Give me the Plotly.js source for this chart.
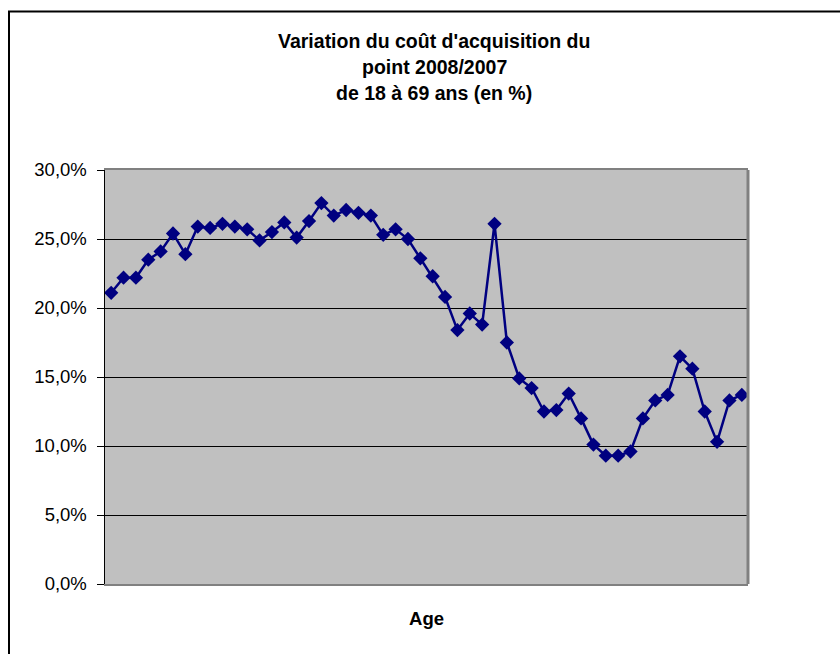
<!DOCTYPE html>
<html>
<head>
<meta charset="utf-8">
<script src="https://cdn.plot.ly/plotly-3.0.1.min.js"></script>
<style>html,body{margin:0;padding:0;background:#fff;}#chart{width:840px;height:654px;}</style>
</head>
<body>
<div id="chart"></div>
<script>
const ages = [18,19,20,21,22,23,24,25,26,27,28,29,30,31,32,33,34,35,36,37,38,39,40,41,42,43,44,45,46,47,48,49,50,51,52,53,54,55,56,57,58,59,60,61,62,63,64,65,66,67,68,69];
const variation = [0.211,0.222,0.222,0.235,0.241,0.254,0.239,0.259,0.258,0.261,0.259,0.257,0.249,0.255,0.262,0.251,0.263,0.276,0.267,0.271,0.269,0.267,0.253,0.257,0.250,0.236,0.223,0.208,0.184,0.196,0.188,0.261,0.175,0.149,0.142,0.125,0.126,0.138,0.120,0.101,0.093,0.093,0.096,0.120,0.133,0.137,0.165,0.156,0.125,0.103,0.133,0.137];
const yTicks = [0,0.05,0.10,0.15,0.20,0.25,0.30];
const titleLines = ["Variation du coût d'acquisition du","point 2008/2007","de 18 à 69 ans (en %)"];
const xTitle = "Age";

const font = "Liberation Sans, Arial, sans-serif";
const L = 105, R = 92, T = 170, B = 70, W = 840, H = 654;
const pw = W - L - R, ph = H - T - B;
const px = x => (x - L) / pw;
const py = y => (H - B - y) / ph;

const trace = {
  x: ages, y: variation, type: 'scatter', mode: 'lines+markers',
  line: {color: '#000080', width: 2.5},
  marker: {symbol: 'diamond', size: 11, color: '#000080', line: {width: 0}},
  hoverinfo: 'skip'
};

const titleY = [41, 67, 93];
const annotations = titleLines.map((t, i) => ({
  text: '<b>' + t + '</b>', xref: 'paper', yref: 'paper',
  x: px(434), y: py(titleY[i]), xanchor: 'center', yanchor: 'middle',
  showarrow: false, font: {family: font, size: 19.5, color: '#000'}
}));

const layout = {
  width: W, height: H,
  margin: {l: L, r: R, t: T, b: B, pad: 0},
  paper_bgcolor: '#fff', plot_bgcolor: '#c0c0c0',
  separators: ',.',
  showlegend: false,
  font: {family: font, color: '#000'},
  xaxis: {
    range: [17.5, 69.5], showticklabels: false, ticks: '', showgrid: false, zeroline: false,
    showline: true, linecolor: '#808080', linewidth: 2, mirror: true,
    title: {text: '<b>' + xTitle + '</b>', font: {family: font, size: 18.5, color: '#000'}, standoff: 27}
  },
  yaxis: {
    range: [0, 0.30], tickvals: yTicks, tickformat: '.1%',
    ticks: 'outside', ticklen: 7, tickcolor: '#000', tickwidth: 1,
    ticklabelstandoff: 6,
    tickfont: {family: font, size: 18.5, color: '#000'},
    showgrid: true, gridcolor: '#000', gridwidth: 1, zeroline: false,
    showline: true, linecolor: '#000', linewidth: 1.5
  },
  annotations: annotations,
  shapes: [
    {type: 'line', xref: 'paper', yref: 'paper', x0: 1, x1: 1, y0: 0, y1: 1, line: {color: '#808080', width: 3}},
    {type: 'line', xref: 'paper', yref: 'paper', x0: px(9), x1: px(9), y0: py(11), y1: py(660), line: {color: '#000', width: 2}},
    {type: 'line', xref: 'paper', yref: 'paper', x0: px(8), x1: px(845), y0: py(11.5), y1: py(11.5), line: {color: '#000', width: 2}}
  ]
};

Plotly.newPlot('chart', [trace], layout, {displayModeBar: false, staticPlot: true});
</script>
</body>
</html>
